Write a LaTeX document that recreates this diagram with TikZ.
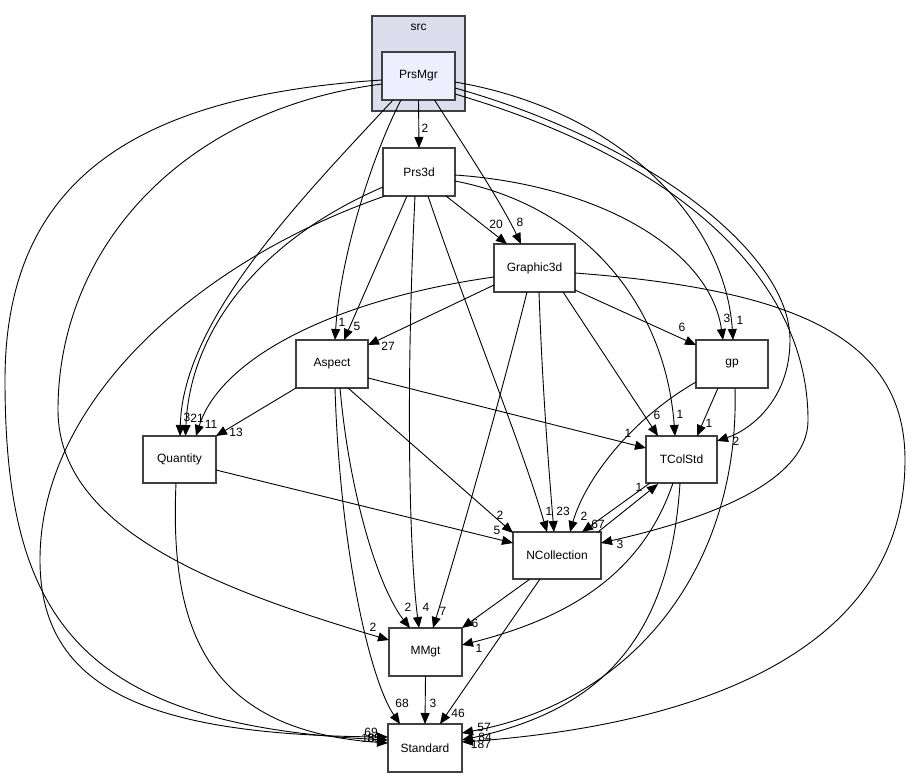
\documentclass[tikz,border=0pt]{standalone}
\usepackage{fontspec}
\setmainfont{Liberation Sans}
\usetikzlibrary{arrows.meta,calc}
\newcommand\lbfont{\fontsize{12}{14}\selectfont}
\definecolor{clusterfill}{HTML}{DDDDEE}
\definecolor{mainfill}{HTML}{EEEEFF}
\definecolor{boxline}{HTML}{404040}
\tikzset{
  box/.style={draw=boxline, line width=1.3pt, fill=white, minimum height=48pt, inner sep=0pt, font=\lbfont},
  edge/.style={-{Triangle[length=11pt,width=9pt]}, line width=0.9pt, black},
  lbl/.style={font=\lbfont, inner sep=0pt}
}
\begin{document}
\begin{tikzpicture}[x=1pt,y=-1pt]
\useasboundingbox (0,0) rectangle (912,777);
% cluster
\node[draw=boxline, line width=1.3pt, fill=clusterfill, minimum width=93pt, minimum height=95pt, inner sep=0pt] (src) at (418.5,63.5) {};
\node[lbl] (srclbl) at (418.5,27) {src};
% nodes
\node[box, fill=mainfill, minimum width=73pt] (prsmgr) at (418.5,76) {PrsMgr};
\node[box, minimum width=72pt] (prs3d) at (419,172) {Prs3d};
\node[box, minimum width=81pt] (graphic) at (534.5,268) {Graphic3d};
\node[box, minimum width=72pt] (aspect) at (332,364) {Aspect};
\node[box, minimum width=72pt] (gp) at (732,364) {gp};
\node[box, minimum width=73pt, minimum height=47pt] (quantity) at (179.5,459.5) {Quantity};
\node[box, minimum width=71pt, minimum height=47pt] (tcolstd) at (681.5,459.5) {TColStd};
\node[box, minimum width=88pt, minimum height=47pt] (ncoll) at (557,555.5) {NCollection};
\node[box, minimum width=73pt] (mmgt) at (425.5,652) {MMgt};
\node[box, minimum width=74pt] (standard) at (425,748) {Standard};

% PrsMgr edges
\draw[edge] ($(prsmgr)+(0,24)$) -- ($(prs3d)+(0,-24)$);
\draw[edge] ($(prsmgr)+(16,24)$) .. controls (460,140) and (500,200) .. ($(graphic)+(-13.5,-24)$);
\draw[edge] ($(prsmgr)+(-17.5,24)$) .. controls (370,160) and (340,260) .. ($(aspect)+(3,-24)$);
\draw[edge] ($(prsmgr)+(-25.5,24)$) .. controls (300,200) and (183,320) .. ($(quantity)+(0.5,-23.5)$);
\draw[edge] ($(prsmgr)+(-36.5,8)$) .. controls (180,110) and (58,250) .. (58,410) .. controls (58,530) and (220,590) .. ($(mmgt)+(-36.5,-12)$);
\draw[edge] ($(prsmgr)+(-36.5,4)$) .. controls (150,95) and (5,170) .. (5,380) .. controls (5,620) and (80,725) .. ($(standard)+(-37,-8)$);
\draw[edge] ($(prsmgr)+(36.5,6)$) .. controls (620,110) and (725,220) .. ($(gp)+(1,-24)$);
\draw[edge] ($(prsmgr)+(36.5,12)$) .. controls (640,140) and (790,250) .. (790,340) .. controls (790,400) and (750,430) .. ($(tcolstd)+(35.5,-18.5)$);
\draw[edge] ($(prsmgr)+(36.5,18)$) .. controls (680,160) and (808,280) .. (808,420) .. controls (808,490) and (680,525) .. ($(ncoll)+(44,-12.5)$);

% Prs3d edges
\draw[edge] ($(prs3d)+(27,24)$) -- ($(graphic)+(-27.5,-24)$);
\draw[edge] ($(prs3d)+(-12,24)$) -- ($(aspect)+(12,-24)$);
\draw[edge] ($(prs3d)+(-36,15)$) .. controls (260,240) and (190,330) .. ($(quantity)+(6,-23.5)$);
\draw[edge] ($(prs3d)+(-34,24)$) .. controls (200,260) and (40,400) .. (40,560) .. controls (40,690) and (150,735) .. ($(standard)+(-37,-11)$);
\draw[edge] ($(prs3d)+(-4,24)$) .. controls (405,400) and (410,560) .. ($(mmgt)+(-6.5,-24)$);
\draw[edge] ($(prs3d)+(9,24)$) .. controls (470,320) and (520,440) .. ($(ncoll)+(-10,-23.5)$);
\draw[edge] ($(prs3d)+(36,3)$) .. controls (600,185) and (710,250) .. ($(gp)+(-9,-24)$);
\draw[edge] ($(prs3d)+(36,9)$) .. controls (580,205) and (665,300) .. ($(tcolstd)+(-6.5,-23.5)$);

% Graphic3d edges
\draw[edge] ($(graphic)+(-40.5,17)$) -- ($(aspect)+(36,-19)$);
\draw[edge] ($(graphic)+(-40.5,9)$) .. controls (330,300) and (220,360) .. ($(quantity)+(16.5,-23.5)$);
\draw[edge] ($(graphic)+(40.5,22)$) -- ($(gp)+(-36,-19)$);
\draw[edge] ($(graphic)+(28.5,24)$) -- ($(tcolstd)+(-23.5,-23.5)$);
\draw[edge] ($(graphic)+(4.5,24)$) .. controls (542,380) and (548,460) .. ($(ncoll)+(-3,-23.5)$);
\draw[edge] ($(graphic)+(-7.5,24)$) .. controls (500,400) and (460,540) .. ($(mmgt)+(7.5,-24)$);
\draw[edge] ($(graphic)+(40.5,5)$) .. controls (800,290) and (905,340) .. (905,460) .. controls (905,650) and (700,725) .. ($(standard)+(37,-6)$);

% Aspect edges
\draw[edge] ($(aspect)+(-36,24)$) -- ($(quantity)+(36.5,-23.5)$);
\draw[edge] ($(aspect)+(36,14)$) -- ($(tcolstd)+(-35.5,-11.5)$);
\draw[edge] ($(aspect)+(16,24)$) -- ($(ncoll)+(-44,-22.5)$);
\draw[edge] ($(aspect)+(8,24)$) .. controls (350,500) and (380,590) .. ($(mmgt)+(-15.5,-24)$);
\draw[edge] ($(aspect)+(3,24)$) .. controls (340,550) and (370,680) .. ($(standard)+(-25,-24)$);

% gp edges
\draw[edge] ($(gp)+(-14,24)$) -- ($(tcolstd)+(15.5,-23.5)$);
\draw[edge] ($(gp)+(-36,18)$) .. controls (630,420) and (585,480) .. ($(ncoll)+(13,-23.5)$);
\draw[edge] ($(gp)+(3,24)$) .. controls (740,560) and (640,700) .. ($(standard)+(37,-15)$);

% Quantity edges
\draw[edge] ($(quantity)+(36.5,10.5)$) -- ($(ncoll)+(-44,-12.5)$);
\draw[edge] ($(quantity)+(-3.5,23.5)$) .. controls (170,620) and (200,730) .. ($(standard)+(-37,-5)$);

% TColStd edges
\draw[edge] ($(tcolstd)+(-31.5,23.5)$) -- ($(ncoll)+(25,-23.5)$);
\draw[edge] ($(tcolstd)+(-8.5,23.5)$) .. controls (640,580) and (560,620) .. ($(mmgt)+(36.5,-7)$);
\draw[edge] ($(tcolstd)+(-1.5,23.5)$) .. controls (670,640) and (600,710) .. ($(standard)+(37,-8)$);

% NCollection edges
\draw[edge] ($(ncoll)+(41,-23.5)$) -- ($(tcolstd)+(-23.5,24.5)$);
\draw[edge] ($(ncoll)+(-27,23.5)$) -- ($(mmgt)+(36.5,-24)$);
\draw[edge] ($(ncoll)+(-17,23.5)$) -- ($(standard)+(15,-24)$);

% MMgt edge
\draw[edge] ($(mmgt)+(0,24)$) -- ($(standard)+(0,-24)$);

% labels
\node[lbl] (l1) at (425,128) {2};
\node[lbl] (l2) at (520,222) {8};
\node[lbl] (l3) at (496,224) {20};
\node[lbl] (l4) at (342,322) {1};
\node[lbl] (l5) at (357,326) {5};
\node[lbl] (l6) at (388,346) {27};
\node[lbl] (l7) at (187,417) {3};
\node[lbl] (l8) at (197,418) {21};
\node[lbl] (l9) at (211,424) {11};
\node[lbl] (l10) at (236,432) {13};
\node[lbl] (l11) at (727,318) {3};
\node[lbl] (l12) at (740,320) {1};
\node[lbl] (l13) at (682,327) {6};
\node[lbl] (l14) at (657,415) {6};
\node[lbl] (l15) at (680,414) {1};
\node[lbl] (l16) at (709,423) {1};
\node[lbl] (l17) at (628,433) {1};
\node[lbl] (l18) at (736,441) {2};
\node[lbl] (l19) at (549,511) {1};
\node[lbl] (l20) at (563,511) {23};
\node[lbl] (l21) at (584,516) {2};
\node[lbl] (l22) at (598,524) {67};
\node[lbl] (l23) at (639,487) {1};
\node[lbl] (l24) at (500,515) {2};
\node[lbl] (l25) at (497,530) {5};
\node[lbl] (l26) at (620,544) {3};
\node[lbl] (l27) at (408,607) {2};
\node[lbl] (l28) at (426,607) {4};
\node[lbl] (l29) at (443,611) {7};
\node[lbl] (l30) at (373,627) {2};
\node[lbl] (l31) at (475,623) {6};
\node[lbl] (l32) at (479,648) {1};
\node[lbl] (l33) at (402,703) {68};
\node[lbl] (l34) at (433,703) {3};
\node[lbl] (l35) at (458,713) {46};
\node[lbl] (l36) at (484,727) {57};
\node[lbl] (l37) at (485,737) {84};
\node[lbl] (l38) at (481,744) {187};
\node[lbl] (l39) at (371,732) {69};
\node[lbl] (l40) at (368,738) {15};
\node[lbl] (l41) at (374,738) {85};
\end{tikzpicture}
\end{document}
